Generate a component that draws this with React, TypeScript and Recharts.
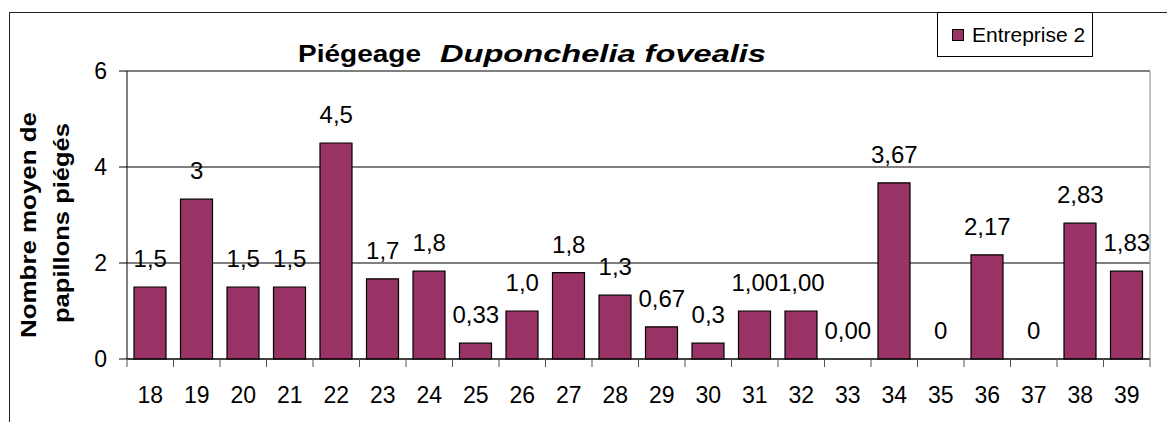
import {
  Bar,
  CartesianGrid,
  ComposedChart,
  LabelList,
  Legend,
  Line,
  XAxis,
  YAxis,
} from "recharts";

const semaines = [
  "18", "19", "20", "21", "22", "23", "24", "25", "26", "27", "28",
  "29", "30", "31", "32", "33", "34", "35", "36", "37", "38", "39",
];
const moyennes = [
  1.5, 3.33, 1.5, 1.5, 4.5, 1.67, 1.83, 0.33, 1.0, 1.8, 1.33,
  0.67, 0.33, 1.0, 1.0, 0, 3.67, 0, 2.17, 0, 2.83, 1.83,
];
const etiquettes = [
  "1,5", "3", "1,5", "1,5", "4,5", "1,7", "1,8", "0,33", "1,0", "1,8", "1,3",
  "0,67", "0,3", "1,00", "1,00", "0,00", "3,67", "0", "2,17", "0", "2,83", "1,83",
];
const yTicks = [0, 2, 4, 6];

const SERIE = "Entreprise 2";
const COULEUR = "#993366";
const FONT = "'Liberation Sans', Arial, sans-serif";

const data = semaines.map((s, i) => ({
  semaine: s,
  valeur: moyennes[i],
  label: etiquettes[i],
}));

// category label plus Excel-style tick marks on the category boundaries
function SemaineTick(props: any) {
  const { x, y, payload, index } = props;
  const half = payload.offset ?? 0;
  const axisY = y - 28;
  const last = index === semaines.length - 1;
  return (
    <g>
      <line x1={x - half} x2={x - half} y1={axisY} y2={axisY + 8} stroke="#555" />
      {last && (
        <line x1={x + half} x2={x + half} y1={axisY} y2={axisY + 8} stroke="#555" />
      )}
      <text x={x} y={y} dy="0.71em" textAnchor="middle" fontSize={23} fill="#000">
        {payload.value}
      </text>
    </g>
  );
}

function LegendeBox() {
  return (
    <div
      style={{
        boxSizing: "border-box",
        width: 156,
        height: 45,
        border: "1px solid #000",
        background: "#fff",
        display: "flex",
        alignItems: "center",
        paddingLeft: 14,
        fontSize: 21,
        fontFamily: FONT,
        color: "#000",
      }}
    >
      <span
        style={{
          display: "inline-block",
          boxSizing: "border-box",
          width: 12,
          height: 12,
          background: COULEUR,
          border: "1px solid #000",
          marginRight: 8,
          marginTop: 1,
        }}
      />
      {SERIE}
    </div>
  );
}

export default function App() {
  return (
    <div
      style={{
        position: "absolute",
        left: 0,
        top: 0,
        width: 1167,
        height: 422,
        overflow: "hidden",
        background: "#fff",
        fontFamily: FONT,
      }}
    >
      <div
        style={{
          position: "absolute",
          left: 9,
          top: 12,
          width: 1300,
          height: 500,
          borderLeft: "1px solid #222",
          borderTop: "1px solid #222",
        }}
      />
      <ComposedChart
        width={1167}
        height={422}
        data={data}
        margin={{ top: 71, right: 16, bottom: 0, left: 0 }}
        style={{ position: "absolute", left: 0, top: 0 }}
      >
        <CartesianGrid vertical={false} stroke="#000" strokeWidth={1} />
        <XAxis
          dataKey="semaine"
          height={63}
          tickLine={false}
          axisLine={{ stroke: "#000" }}
          tick={<SemaineTick />}
          tickSize={8}
          tickMargin={20}
          interval={0}
        />
        <YAxis
          width={127}
          domain={[0, 6]}
          ticks={yTicks}
          axisLine={{ stroke: "#000" }}
          tickLine={{ stroke: "#000" }}
          tick={{ fill: "#000", fontSize: 23 }}
          tickSize={8}
          tickMargin={12}
        />
        <YAxis
          yAxisId="droite"
          orientation="right"
          width={1}
          domain={[0, 6]}
          tick={false}
          tickLine={false}
          axisLine={{ stroke: "#888" }}
        />
        <Legend
          layout="vertical"
          align="center"
          verticalAlign="middle"
          wrapperStyle={{ left: 937, top: 12, width: 156 }}
          content={() => <LegendeBox />}
        />
        <Bar
          dataKey="valeur"
          name={SERIE}
          fill={COULEUR}
          stroke="#000"
          strokeWidth={1.2}
          barSize={32}
          isAnimationActive={false}
        />
        <Line
          dataKey="valeur"
          stroke="none"
          dot={false}
          activeDot={false}
          legendType="none"
          isAnimationActive={false}
        >
          <LabelList
            dataKey="label"
            position="top"
            offset={20}
            fill="#000"
            fontSize={24}
          />
        </Line>
        <text
          x={298}
          y={62}
          fontSize={23}
          fontWeight="bold"
          fontFamily={FONT}
          fill="#000"
          textLength={123}
          lengthAdjust="spacingAndGlyphs"
        >
          Piégeage
        </text>
        <text
          x={440}
          y={62}
          fontSize={23}
          fontWeight="bold"
          fontStyle="italic"
          fontFamily={FONT}
          fill="#000"
          textLength={326}
          lengthAdjust="spacingAndGlyphs"
        >
          Duponchelia fovealis
        </text>
        <text
          x={36}
          y={225}
          transform="rotate(-90 36 225)"
          textAnchor="middle"
          fontSize={22}
          fontWeight="bold"
          fontFamily={FONT}
          fill="#000"
          textLength={226}
          lengthAdjust="spacingAndGlyphs"
        >
          Nombre moyen de
        </text>
        <text
          x={69}
          y={223}
          transform="rotate(-90 69 223)"
          textAnchor="middle"
          fontSize={22}
          fontWeight="bold"
          fontFamily={FONT}
          fill="#000"
          textLength={200}
          lengthAdjust="spacingAndGlyphs"
        >
          papillons piégés
        </text>
      </ComposedChart>
    </div>
  );
}
